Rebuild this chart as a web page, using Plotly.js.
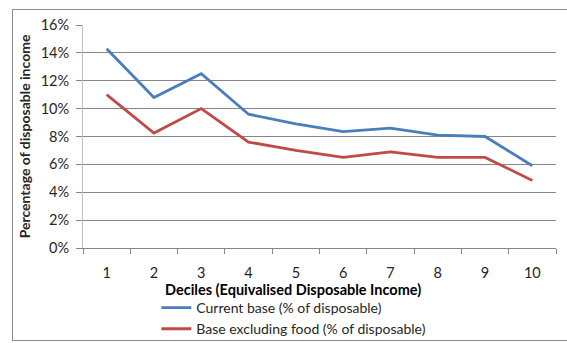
<!DOCTYPE html>
<html><head><meta charset="utf-8">
<script src="https://cdn.plot.ly/plotly-3.0.1.min.js"></script>
<style>
html,body{margin:0;padding:0;background:#fff;}
#wrap{position:relative;width:567px;height:343px;}
#chart{width:567px;height:343px;}
#frame{position:absolute;left:12px;top:9px;width:560px;height:330px;border:1px solid #8c8c8c;pointer-events:none;}
</style></head>
<body>
<div id="wrap"><div id="chart"></div><div id="frame"></div></div>
<script>
const deciles = ["1","2","3","4","5","6","7","8","9","10"];
const currentBase = [14.3, 10.8, 12.5, 9.6, 8.9, 8.35, 8.6, 8.1, 8.0, 5.9];
const excludingFood = [11.0, 8.25, 10.0, 7.6, 7.0, 6.5, 6.9, 6.5, 6.5, 4.85];
const seriesNames = ["Current base (% of disposable)", "Base excluding food (% of disposable)"];
const yTicks = [0,2,4,6,8,10,12,14,16];
const yTickLabels = ["0%","2%","4%","6%","8%","10%","12%","14%","16%"];

const font = "Lato, 'Open Sans', sans-serif";
const traces = [
  {x: deciles, y: currentBase, name: seriesNames[0], type: "scatter", mode: "lines",
   line: {color: "#4A7EBB", width: 2.8}},
  {x: deciles, y: excludingFood, name: seriesNames[1], type: "scatter", mode: "lines",
   line: {color: "#BE4B48", width: 2.8}}
];
const layout = {
  width: 567, height: 343,
  margin: {l: 83, r: 11, t: 25, b: 95, autoexpand: false},
  paper_bgcolor: "#fff", plot_bgcolor: "#fff",
  font: {family: font, size: 14.5, color: "#262626"},
  showlegend: true,
  legend: {x: 0.155, xanchor: "left", y: -0.197, yref: "paper", yanchor: "top",
    orientation: "v", font: {size: 14, family: font, color: "#262626"},
    tracegroupgap: 0, itemwidth: 30, bgcolor: "rgba(0,0,0,0)"},
  xaxis: {type: "category", range: [-0.5, 9.5], tickson: "boundaries", ticks: "outside", ticklen: 5,
    tickcolor: "#868686", showline: true, linecolor: "#868686", linewidth: 1,
    showgrid: false, tickfont: {size: 14.5}, ticklabelstandoff: 12, fixedrange: true},
  yaxis: {range: [0, 16], tickvals: yTicks, ticktext: yTickLabels, ticks: "outside", ticklen: 6,
    tickcolor: "#868686", showline: true, linecolor: "#bfbfbf", linewidth: 1,
    showgrid: true, gridcolor: "#868686", gridwidth: 1, zeroline: false,
    tickfont: {size: 14.5}, ticklabelstandoff: 4,
    title: {text: "<b>Percentage of disposable income</b>", font: {size: 14}, standoff: 6}},
  annotations: [{text: "<b>Deciles (Equivalised Disposable Income)</b>", xref: "paper", yref: "paper",
    x: 0.169, xanchor: "left", y: -0.188, yanchor: "middle", showarrow: false,
    font: {size: 14.5, family: font, color: "#000"}}]
};
Plotly.newPlot("chart", traces, layout, {displayModeBar: false, staticPlot: true});
</script>
</body></html>
